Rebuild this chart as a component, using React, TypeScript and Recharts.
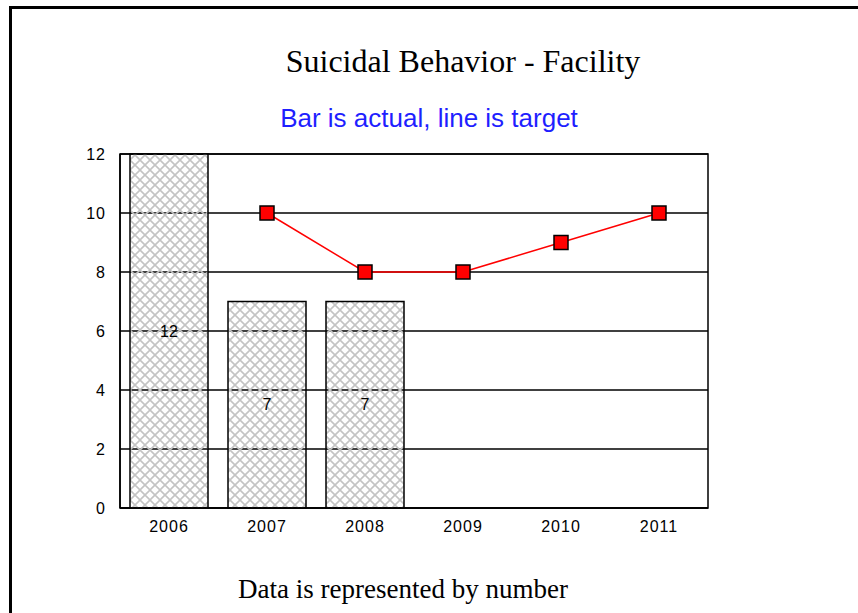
import { Bar, CartesianGrid, ComposedChart, LabelList, Line, ReferenceArea, XAxis, YAxis } from 'recharts';

const years = ['2006', '2007', '2008', '2009', '2010', '2011'];
const actual = [12, 7, 7, null, null, null];
const target = [null, 10, 8, 8, 9, 10];
const yTicks = [0, 2, 4, 6, 8, 10, 12];

const data = years.map((year, i) => ({ year, actual: actual[i], target: target[i] }));

const axisTick = { fontSize: 16, fill: '#000', letterSpacing: 1, fontFamily: '"Liberation Sans", Arial, sans-serif' };

function SquareDot(props: any) {
  const { cx, cy, value } = props;
  if (value == null || cx == null || cy == null) return null;
  return <rect x={cx - 7} y={cy - 7} width={14} height={14} fill="#ff0000" stroke="#000" strokeWidth={1.5} />;
}

function centered(x: number, y: number, size: number) {
  return {
    position: 'absolute' as const,
    left: x - 300,
    width: 600,
    top: y - size / 2,
    fontSize: size,
    lineHeight: `${size}px`,
    textAlign: 'center' as const,
    whiteSpace: 'nowrap' as const,
  };
}

export default function App() {
  return (
    <div style={{ position: 'absolute', left: 0, top: 0, width: 858, height: 613, background: '#fff', overflow: 'hidden' }}>
      <div style={{ position: 'absolute', left: 9, top: 6, right: 0, bottom: 0, borderTop: '3px solid #000', borderLeft: '3px solid #000' }} />
      <div style={{ ...centered(463, 61, 32), fontFamily: '"Liberation Serif", "Times New Roman", serif', color: '#000' }}>
        Suicidal Behavior - Facility
      </div>
      <div style={{ ...centered(429, 118, 26), fontFamily: '"Liberation Sans", Arial, sans-serif', color: '#1f1fff' }}>
        Bar is actual, line is target
      </div>
      <div style={{ ...centered(403, 589, 27), fontFamily: '"Liberation Serif", "Times New Roman", serif', color: '#000' }}>
        Data is represented by number
      </div>
      <ComposedChart
        width={858}
        height={613}
        data={data}
        margin={{ top: 154, right: 150, left: 80, bottom: 75 }}
        barCategoryGap={10}
        style={{ position: 'absolute', left: 0, top: 0 }}
      >
        <defs>
          <pattern id="hatch" width={10} height={10} patternUnits="userSpaceOnUse">
            <path d="M0,0 L10,10 M10,0 L0,10" stroke="#c4c4c4" strokeWidth={1.6} />
          </pattern>
        </defs>
        <CartesianGrid vertical={false} stroke="#000" strokeWidth={1.5} strokeOpacity={1} />
        <ReferenceArea y1={0} y2={12} fill="none" fillOpacity={0} stroke="#000" strokeWidth={1.5} strokeOpacity={1} />
        <XAxis
          dataKey="year"
          height={30}
          tick={axisTick}
          tickLine={false}
          tickSize={0}
          tickMargin={13}
          axisLine={{ stroke: '#000', strokeWidth: 1.5 }}
        />
        <YAxis
          domain={[0, 12]}
          ticks={yTicks}
          width={40}
          tick={axisTick}
          tickLine={false}
          tickSize={0}
          tickMargin={14}
          axisLine={{ stroke: '#000', strokeWidth: 1.5 }}
        />
        <Bar dataKey="actual" fill="url(#hatch)" stroke="#000" strokeWidth={1.5} isAnimationActive={false}>
          <LabelList dataKey="actual" position="center" fill="#000" fontSize={16} fontFamily='"Liberation Sans", Arial, sans-serif' />
        </Bar>
        <Line
          dataKey="target"
          stroke="#ff0000"
          strokeWidth={1.5}
          dot={<SquareDot />}
          activeDot={false}
          isAnimationActive={false}
        />
      </ComposedChart>
    </div>
  );
}
